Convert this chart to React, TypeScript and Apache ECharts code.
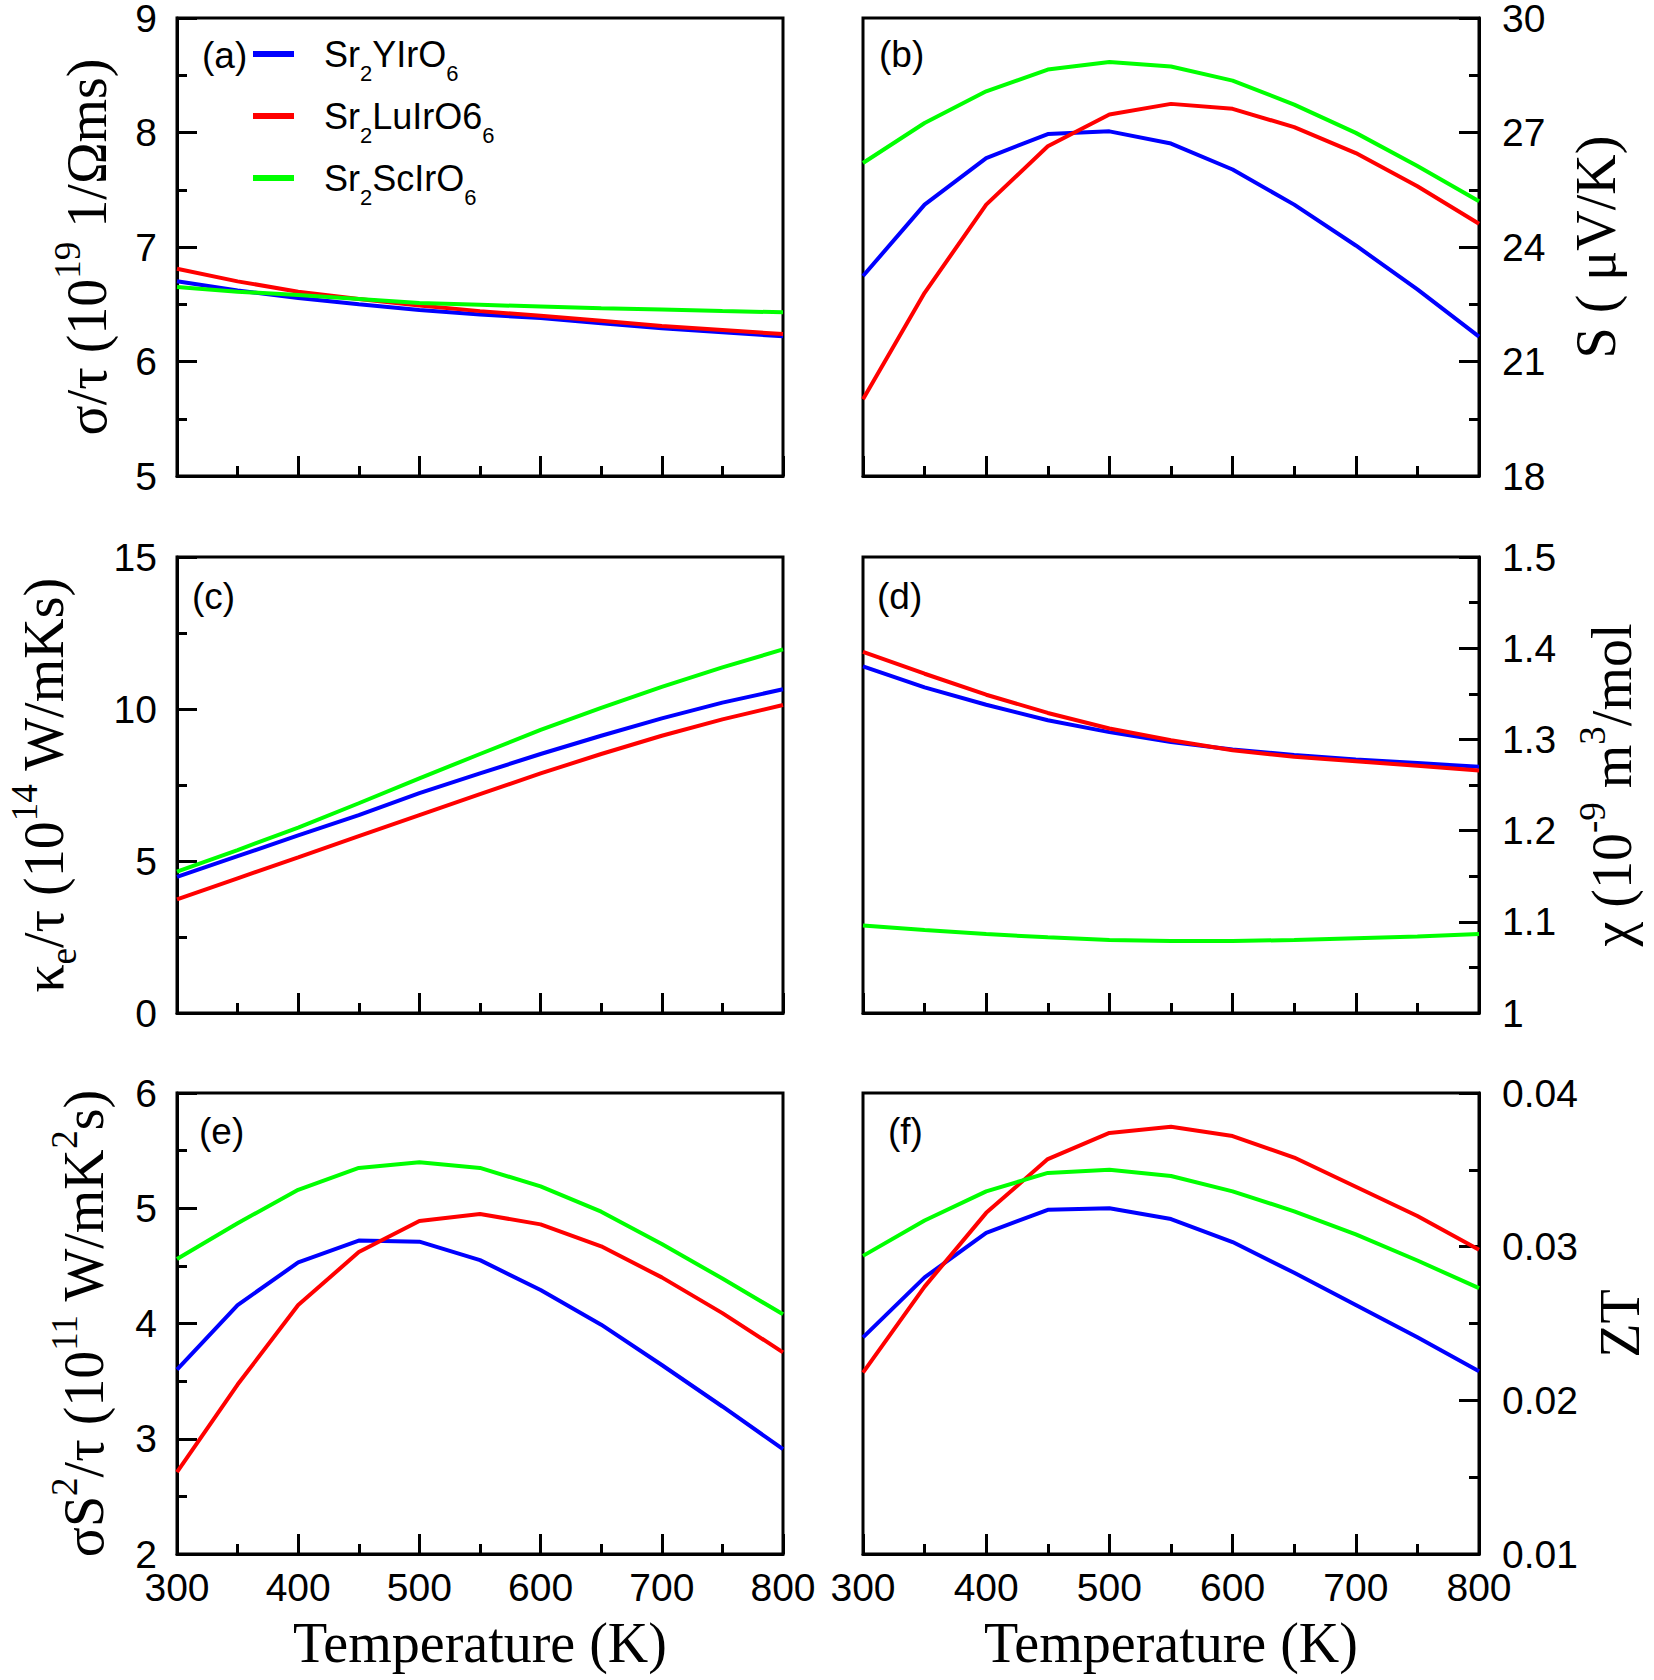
import React, { useEffect, useRef } from 'react';
import * as echarts from 'echarts';

const TEMPS = [300, 350, 400, 450, 500, 550, 600, 650, 700, 750, 800];
const NAMES = ['Sr2YIrO6', 'Sr2LuIrO66', 'Sr2ScIrO6'];
const COLORS = ['#0000ff', '#ff0000', '#00ff00'];

// (a) sigma/tau (1e19 1/Ohm m s)
const SIGMA_Y = [6.70, 6.62, 6.555, 6.50, 6.45, 6.41, 6.38, 6.335, 6.29, 6.255, 6.22];
const SIGMA_LU = [6.81, 6.70, 6.61, 6.545, 6.49, 6.44, 6.40, 6.355, 6.31, 6.275, 6.24];
const SIGMA_SC = [6.65, 6.61, 6.58, 6.545, 6.51, 6.495, 6.48, 6.465, 6.455, 6.44, 6.43];

// (b) Seebeck S (uV/K)
const SEEBECK_Y = [23.24, 25.11, 26.33, 26.96, 27.03, 26.71, 26.03, 25.11, 24.04, 22.89, 21.65];
const SEEBECK_LU = [20.01, 22.80, 25.11, 26.64, 27.47, 27.75, 27.62, 27.14, 26.46, 25.59, 24.61];
const SEEBECK_SC = [26.20, 27.25, 28.08, 28.65, 28.85, 28.73, 28.36, 27.73, 26.99, 26.12, 25.20];

// (c) kappa_e/tau (1e14 W/mKs)
const KAPPA_Y = [4.48, 5.16, 5.84, 6.51, 7.23, 7.88, 8.52, 9.12, 9.69, 10.21, 10.65];
const KAPPA_LU = [3.74, 4.43, 5.12, 5.82, 6.51, 7.20, 7.88, 8.52, 9.12, 9.66, 10.13];
const KAPPA_SC = [4.65, 5.36, 6.10, 6.90, 7.72, 8.52, 9.31, 10.04, 10.73, 11.37, 11.96];

// (d) chi (1e-9 m^3/mol)
const CHI_Y = [1.380, 1.357, 1.338, 1.321, 1.308, 1.297, 1.289, 1.283, 1.278, 1.274, 1.270];
const CHI_LU = [1.396, 1.372, 1.349, 1.329, 1.312, 1.299, 1.288, 1.281, 1.276, 1.271, 1.266];
const CHI_SC = [1.096, 1.091, 1.0865, 1.083, 1.080, 1.079, 1.079, 1.080, 1.082, 1.084, 1.0865];

// (e) sigma S^2/tau (1e11 W/mK^2s)
const PF_Y = [3.60, 4.16, 4.53, 4.72, 4.71, 4.55, 4.29, 3.99, 3.64, 3.28, 2.91];
const PF_LU = [2.71, 3.47, 4.16, 4.62, 4.89, 4.95, 4.86, 4.67, 4.40, 4.09, 3.75];
const PF_SC = [4.56, 4.87, 5.16, 5.35, 5.40, 5.35, 5.19, 4.97, 4.69, 4.39, 4.08];

// (f) ZT
const ZT_Y = [0.0241, 0.0280, 0.0309, 0.0324, 0.0325, 0.0318, 0.0303, 0.0283, 0.0262, 0.0241, 0.0219];
const ZT_LU = [0.0218, 0.0274, 0.0322, 0.0357, 0.0374, 0.0378, 0.0372, 0.0358, 0.0339, 0.0320, 0.0298];
const ZT_SC = [0.0294, 0.0317, 0.0336, 0.0348, 0.0350, 0.0346, 0.0336, 0.0323, 0.0308, 0.0291, 0.0273];

const X_TITLE = 'Temperature (K)';
const PANEL_LABELS = ['(a)', '(b)', '(c)', '(d)', '(e)', '(f)'];
const Y_TITLES = [
  'σ/τ (10{sup|19} 1/Ωms)',
  'S ( μV/K)',
  'κ{sub|e}/τ (10{sup|14} W/mKs)',
  'χ (10{sup|-9} m{sup|3}/mol',
  'σS{sup|2}/τ (10{sup|11} W/mK{sup|2}s)',
  'ZT',
];
const LEGEND_TEXT: Record<string, string> = {
  Sr2YIrO6: 'Sr{sub|2}YIrO{sub|6}',
  Sr2LuIrO66: 'Sr{sub|2}LuIrO6{sub|6}',
  Sr2ScIrO6: 'Sr{sub|2}ScIrO{sub|6}',
};

const SERIF = "'Liberation Serif', 'Times New Roman', serif";
const SANS = "'Liberation Sans', Arial, Helvetica, sans-serif";

const PANELS = [
  { grid: { left: 177, top: 18, width: 606, height: 458 }, side: 'left', min: 5, max: 9, interval: 1, gap: 52, data: [SIGMA_Y, SIGMA_LU, SIGMA_SC], xLabels: false, lx: 202, ly: 37 },
  { grid: { left: 863, top: 18, width: 616, height: 458 }, side: 'right', min: 18, max: 30, interval: 3, gap: 79, data: [SEEBECK_Y, SEEBECK_LU, SEEBECK_SC], xLabels: false, lx: 879, ly: 36 },
  { grid: { left: 177, top: 557, width: 606, height: 456 }, side: 'left', min: 0, max: 15, interval: 5, gap: 95, data: [KAPPA_Y, KAPPA_LU, KAPPA_SC], xLabels: false, lx: 192, ly: 578 },
  { grid: { left: 863, top: 557, width: 616, height: 456 }, side: 'right', min: 1, max: 1.5, interval: 0.1, gap: 95, data: [CHI_Y, CHI_LU, CHI_SC], xLabels: false, lx: 877, ly: 578 },
  { grid: { left: 177, top: 1093, width: 606, height: 461 }, side: 'left', min: 2, max: 6, interval: 1, gap: 55, data: [PF_Y, PF_LU, PF_SC], xLabels: true, lx: 199, ly: 1113 },
  { grid: { left: 863, top: 1093, width: 616, height: 461 }, side: 'right', min: 0.01, max: 0.04, interval: 0.01, gap: 103, data: [ZT_Y, ZT_LU, ZT_SC], xLabels: true, lx: 888, ly: 1113 },
];

export default function App() {
  const ref = useRef<HTMLDivElement>(null);

  useEffect(() => {
    if (!ref.current) return;
    const chart = echarts.init(ref.current, null, { renderer: 'svg' });

    const titleRich = {
      sup: { fontFamily: SERIF, fontSize: 37, lineHeight: 37, verticalAlign: 'top', color: '#000' },
      sub: { fontFamily: SERIF, fontSize: 37, lineHeight: 37, verticalAlign: 'bottom', color: '#000' },
    };

    const tickCommon = {
      axisTick: { show: true, inside: true, length: 20, lineStyle: { color: '#000', width: 3 } },
      minorTick: { show: true, splitNumber: 2, length: 10, lineStyle: { color: '#000', width: 3 } },
      axisLine: { show: true, lineStyle: { color: '#000', width: 3 } },
      splitLine: { show: false },
      minorSplitLine: { show: false },
    };

    const grids = PANELS.map((p) => ({
      ...p.grid,
      containLabel: false,
      outerBoundsMode: 'none',
      show: true,
      borderColor: '#000',
      borderWidth: 3,
      backgroundColor: 'transparent',
    }));

    const xAxes = PANELS.map((p, i) => ({
      type: 'value',
      gridIndex: i,
      min: 300,
      max: 800,
      interval: 100,
      position: 'bottom',
      ...tickCommon,
      axisLabel: {
        show: p.xLabels,
        margin: 18,
        fontFamily: SANS,
        fontSize: 39,
        lineHeight: 30,
        color: '#000',
      },
      name: p.xLabels ? X_TITLE : '',
      nameLocation: 'middle',
      nameGap: 61,
      nameTextStyle: { fontFamily: SERIF, fontSize: 56, color: '#000' },
    }));

    const yAxes = PANELS.map((p, i) => ({
      type: 'value',
      gridIndex: i,
      min: p.min,
      max: p.max,
      interval: p.interval,
      position: p.side,
      ...tickCommon,
      axisLabel: {
        show: true,
        margin: p.side === 'left' ? 20 : 23,
        fontFamily: SANS,
        fontSize: 39,
        lineHeight: 30,
        color: '#000',
      },
      name: Y_TITLES[i],
      nameLocation: 'middle',
      nameRotate: 90,
      nameGap: p.gap,
      nameTextStyle: {
        fontFamily: SERIF,
        fontSize: 56,
        lineHeight: 76,
        color: '#000',
        rich: titleRich,
      },
    }));

    const series: any[] = [];
    PANELS.forEach((p, i) => {
      p.data.forEach((vals, k) => {
        series.push({
          type: 'line',
          name: NAMES[k],
          xAxisIndex: i,
          yAxisIndex: i,
          data: TEMPS.map((t, j) => [t, vals[j]]),
          showSymbol: false,
          symbol: 'none',
          smooth: false,
          clip: true,
          color: COLORS[k],
          lineStyle: { color: COLORS[k], width: 4 },
          emphasis: { disabled: true },
          z: 3,
        });
      });
    });

    const option = {
      animation: false,
      backgroundColor: '#fff',
      grid: grids,
      xAxis: xAxes,
      yAxis: yAxes,
      series,
      title: PANELS.map((p, i) => ({
        text: PANEL_LABELS[i],
        left: p.lx,
        top: p.ly,
        padding: 0,
        textStyle: { fontFamily: SANS, fontSize: 37, fontWeight: 'normal', color: '#000' },
      })),
      legend: {
        show: true,
        orient: 'vertical',
        left: 253,
        top: 24,
        padding: 0,
        itemWidth: 41,
        itemHeight: 6,
        itemGap: 2,
        icon: 'rect',
        selectedMode: false,
        data: NAMES,
        formatter: (name: string) => LEGEND_TEXT[name] || name,
        textStyle: {
          fontFamily: SANS,
          fontSize: 36,
          lineHeight: 60,
          color: '#000',
          padding: [0, 0, 0, 25],
          rich: {
            sub: { fontFamily: SANS, fontSize: 22, lineHeight: 22, verticalAlign: 'bottom', color: '#000' },
          },
        },
      },
    };

    chart.setOption(option as any);
    return () => chart.dispose();
  }, []);

  return (
    <div
      ref={ref}
      style={{ position: 'absolute', left: 0, top: 0, width: 1654, height: 1680, background: '#fff' }}
    />
  );
}
